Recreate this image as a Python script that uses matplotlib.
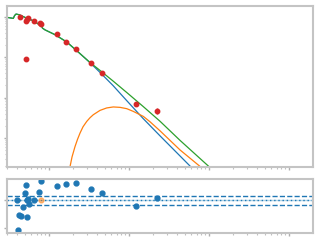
import numpy as np
import matplotlib
matplotlib.use("Agg")
import matplotlib.pyplot as plt

# observed points
obs_x = [0.434, 0.526, 0.551, 0.516, 0.655, 0.772, 0.801, 1.27, 1.645, 2.19, 3.38, 4.63, 12.3, 22.6, 0.520]
obs_y = [983, 891, 928, 808, 781, 696, 657, 376, 247, 158, 70.8, 39.8, 6.96, 4.73, 92.8]
obs_err = [60, 50, 55, 45, 45, 40, 38, 22, 15, 10, 5, 3, 0.6, 0.9, 6]

# model: first component (with wiggles at low x)
comp1_x = [0.2985, 0.358, 0.371, 0.387, 0.425, 0.501, 0.637, 0.772, 0.806, 0.829, 0.891,
           1.189, 1.664, 2.304, 3.254, 4.34, 6.31, 9.36, 15.1, 24.4, 43.4, 77.2, 158.5]
comp1_y = [983, 928, 1090, 1189, 1141, 983, 808, 631, 613, 531, 481,
           365, 241, 137, 73.7, 42.2, 19.95, 8.41, 2.985, 1.122, 0.355, 0.112, 0.0266]

# second component
comp2_x = [1.728, 1.83, 1.939, 2.113, 2.271, 2.44, 2.661, 2.96, 3.254, 3.58, 4.34, 5.26,
           6.36, 7.72, 9.36, 11.3, 15.1, 18.3, 24.4, 43.4, 77.2, 158.5]
comp2_y = [0.0891, 0.1916, 0.335, 0.606, 0.917, 1.31, 1.884, 2.556, 3.162, 3.758, 4.81, 5.53,
           5.855, 5.72, 5.31, 4.545, 3.41, 2.51, 1.496, 0.501, 0.195, 0.0562]

# total model
total_x = [0.2985, 0.358, 0.371, 0.387, 0.425, 0.501, 0.637, 0.772, 0.806, 0.829, 0.891,
           1.189, 1.664, 2.304, 3.254, 4.34, 6.31, 9.36, 15.1, 24.4, 43.4, 77.2, 158.5]
total_y = [983, 928, 1090, 1189, 1141, 983, 808, 631, 613, 531, 481,
           365, 241, 137, 74.5, 47.3, 25.85, 13.4, 5.96, 2.585, 0.866, 0.307, 0.0841]

# residuals
res_x = [0.401, 0.413, 0.425, 0.443, 0.477, 0.505, 0.520, 0.526, 0.535, 0.551, 0.557,
         0.655, 0.756, 0.801, 1.27, 1.645, 2.19, 3.38, 4.63, 12.3, 22.6]
res_y = [0.0, -2.14, -1.05, -1.14, -0.5, 0.5, 1.07, -1.21, 0.0, 0.11, -0.26,
         0.0, 0.57, 1.36, 1.0, 1.14, 1.21, 0.79, 0.5, -0.43, 0.14]
res_flag_x = [0.801]
res_flag_y = [0.0]
band = 0.32

fig = plt.figure(figsize=(3.2, 2.4), dpi=100)
ax = fig.add_axes([0.0219, 0.304, 0.9563, 0.671])
axr = fig.add_axes([0.0219, 0.030, 0.9563, 0.224], sharex=ax)

ax.plot(comp1_x, comp1_y, color='#1f77b4', lw=0.9)
ax.plot(comp2_x, comp2_y, color='#ff7f0e', lw=0.9)
ax.plot(total_x, total_y, color='#2ca02c', lw=0.9)
ax.errorbar(obs_x, obs_y, yerr=obs_err, fmt='o', color='#d62728', ms=3.2,
            elinewidth=1, capsize=0, zorder=5)

ax.set_xscale('log')
ax.set_yscale('log')
ax.set_xlim(10 ** -0.525, 10 ** 3.3)
ax.set_ylim(10 ** -0.725, 10 ** 3.275)

axr.axhline(0, color='#9ecae1', lw=1.0, alpha=0.8)
axr.axhline(0, color='#1f77b4', lw=1.0, ls=(0, (1, 2)))
axr.axhline(band, color='#1f77b4', lw=1.0, ls='--')
axr.axhline(-band, color='#1f77b4', lw=1.0, ls='--')
axr.plot(res_flag_x, res_flag_y, 'o', color='#ff7f0e', alpha=0.5, ms=3.5)
axr.plot(res_x, res_y, 'o', color='#1f77b4', ms=3.5)
axr.set_ylim(-2.31, 1.52)

for a in (ax, axr):
    for s in a.spines.values():
        s.set_color('#c4c4c4')
        s.set_linewidth(1.5)
    a.tick_params(which='major', length=2.5, width=1, color='#b0b0b0',
                  labelleft=False, labelbottom=False)
    a.tick_params(which='minor', length=1.5, width=0.8, color='#c0c0c0')

fig.savefig('out.png', dpi=100)
